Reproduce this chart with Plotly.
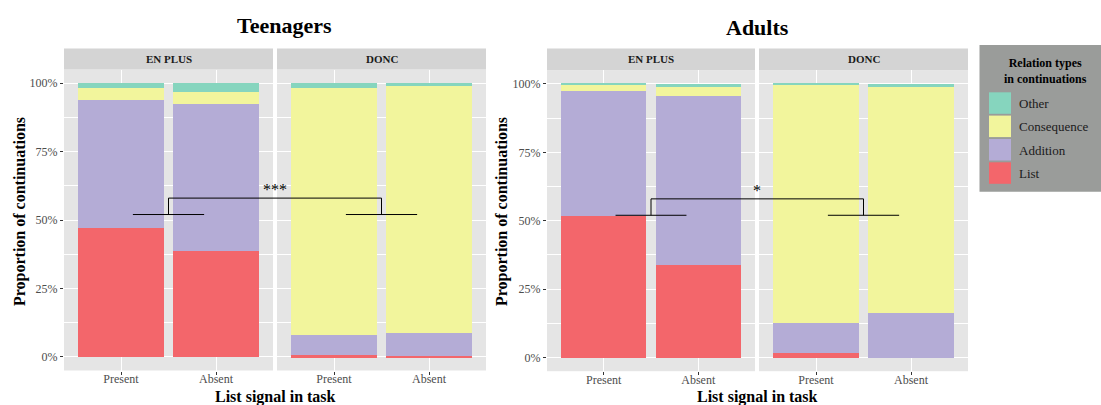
import plotly.graph_objects as go

W, H = 1101, 405

# ---- data -------------------------------------------------------------
signals = ["Present", "Absent"]
connectives = ["EN PLUS", "DONC"]
age_groups = ["Teenagers", "Adults"]
relation_types = ["List", "Addition", "Consequence", "Other"]
relation_colors = ["#F3666B", "#B4ACD6", "#F2F59C", "#86D5BE"]
legend_order = ["Other", "Consequence", "Addition", "List"]

# percentage of continuations per relation type, for [Present, Absent]
teen_en_plus_list = [47.1, 38.7]
teen_en_plus_addition = [46.9, 53.6]
teen_en_plus_consequence = [4.4, 4.3]
teen_en_plus_other = [1.6, 3.4]

teen_donc_list = [0.6, 0.4]
teen_donc_addition = [7.3, 8.2]
teen_donc_consequence = [90.5, 90.2]
teen_donc_other = [1.6, 1.2]

adult_en_plus_list = [51.8, 33.9]
adult_en_plus_addition = [45.6, 61.8]
adult_en_plus_consequence = [2.3, 3.3]
adult_en_plus_other = [0.3, 1.0]

adult_donc_list = [1.6, 0.0]
adult_donc_addition = [11.0, 16.3]
adult_donc_consequence = [87.2, 82.6]
adult_donc_other = [0.2, 1.1]

y_tick_values = [0, 25, 50, 75, 100]
y_tick_labels = ["0%", "25%", "50%", "75%", "100%"]
y_minor_values = [12.5, 37.5, 62.5, 87.5]

significance_labels = ["***", "*"]
bracket_low, bracket_high = 52, 58

panel_data = {
    ("Teenagers", "EN PLUS"): [teen_en_plus_list, teen_en_plus_addition,
                               teen_en_plus_consequence, teen_en_plus_other],
    ("Teenagers", "DONC"): [teen_donc_list, teen_donc_addition,
                            teen_donc_consequence, teen_donc_other],
    ("Adults", "EN PLUS"): [adult_en_plus_list, adult_en_plus_addition,
                            adult_en_plus_consequence, adult_en_plus_other],
    ("Adults", "DONC"): [adult_donc_list, adult_donc_addition,
                         adult_donc_consequence, adult_donc_other],
}

# ---- layout geometry (pixels) ----------------------------------------
FONT = "Liberation Serif"
panel_x_px = {
    ("Teenagers", "EN PLUS"): (64, 273),
    ("Teenagers", "DONC"): (277, 486),
    ("Adults", "EN PLUS"): (547, 755),
    ("Adults", "DONC"): (759, 968),
}
panel_y_px = {"Teenagers": (69.5, 370.5), "Adults": (70.3, 371.2)}
strip_top_px = 48.5
X_RANGE = [-0.6, 1.6]
Y_RANGE = [-5, 105]


def px(x):
    return x / W


def py(y):
    return 1 - y / H


fig = go.Figure()
layout_axes = {}
i = 0
for group in age_groups:
    for conn in connectives:
        i += 1
        key = (group, conn)
        xs = "" if i == 1 else str(i)
        x0, x1 = panel_x_px[key]
        top, bottom = panel_y_px[group]
        left_panel = conn == connectives[0]

        for rel, color, vals in zip(relation_types, relation_colors, panel_data[key]):
            fig.add_trace(go.Bar(
                x=signals, y=vals, name=rel, marker_color=color,
                marker_line_width=0, width=0.9, showlegend=False,
                xaxis="x" + xs, yaxis="y" + xs,
                hovertemplate=f"{group} · {conn}<br>%{{x}}: {rel} %{{y:.1f}}%<extra></extra>",
            ))

        layout_axes["xaxis" + xs] = dict(
            domain=[px(x0), px(x1)], anchor="y" + xs, range=X_RANGE,
            type="category", categoryorder="array", categoryarray=signals,
            showgrid=True, gridcolor="white", gridwidth=1.1,
            ticks="outside", ticklen=3, tickcolor="#333333", tickwidth=1,
            ticklabelstandoff=-6,
            tickfont=dict(family=FONT, size=12, color="#4D4D4D"),
            showline=False, zeroline=False, fixedrange=True,
        )
        layout_axes["yaxis" + xs] = dict(
            domain=[py(bottom), py(top)], anchor="x" + xs, range=Y_RANGE,
            tickmode="array", tickvals=y_tick_values, ticktext=y_tick_labels,
            showticklabels=left_panel,
            ticks="outside" if left_panel else "", ticklen=3,
            tickcolor="#333333", tickwidth=1,
            tickfont=dict(family=FONT, size=12, color="#4D4D4D"),
            showgrid=True, gridcolor="white", gridwidth=1.1,
            minor=dict(tickmode="array", tickvals=y_minor_values, showgrid=True,
                       gridcolor="white", gridwidth=0.5, ticks=""),
            showline=False, zeroline=False, fixedrange=True,
        )

shapes = []
annotations = []

# facet strips
for (group, conn), (x0, x1) in panel_x_px.items():
    top = panel_y_px[group][0]
    shapes.append(dict(type="rect", xref="paper", yref="paper",
                       x0=px(x0), x1=px(x1), y0=py(top), y1=py(strip_top_px),
                       fillcolor="#D4D4D4", line=dict(width=0), layer="below"))
    annotations.append(dict(xref="paper", yref="paper", x=px((x0 + x1) / 2),
                            y=py((top + strip_top_px) / 2), text=f"<b>{conn}</b>",
                            showarrow=False, xanchor="center", yanchor="middle",
                            font=dict(family=FONT, size=11, color="#1A1A1A")))


def data_to_paper(key, xv, yv):
    """Convert a data position inside a facet to paper coordinates."""
    x0, x1 = panel_x_px[key]
    top, bottom = panel_y_px[key[0]]
    xpix = x0 + (xv - X_RANGE[0]) / (X_RANGE[1] - X_RANGE[0]) * (x1 - x0)
    ypix = bottom - (yv - Y_RANGE[0]) / (Y_RANGE[1] - Y_RANGE[0]) * (bottom - top)
    return px(xpix), py(ypix)


# significance brackets between the two connectives
line_style = dict(color="black", width=1)
for group, label in zip(age_groups, significance_labels):
    pts = []
    for conn in connectives:
        key = (group, conn)
        lx0, ly = data_to_paper(key, 0.125, bracket_low)
        lx1, _ = data_to_paper(key, 0.875, bracket_low)
        mx, hy = data_to_paper(key, 0.5, bracket_high)
        shapes.append(dict(type="line", xref="paper", yref="paper",
                           x0=lx0, x1=lx1, y0=ly, y1=ly, line=line_style))
        shapes.append(dict(type="line", xref="paper", yref="paper",
                           x0=mx, x1=mx, y0=ly, y1=hy, line=line_style))
        pts.append((mx, hy))
    shapes.append(dict(type="line", xref="paper", yref="paper",
                       x0=pts[0][0], x1=pts[1][0], y0=pts[0][1], y1=pts[1][1],
                       line=line_style))
    annotations.append(dict(xref="paper", yref="paper",
                            x=(pts[0][0] + pts[1][0]) / 2, y=pts[0][1],
                            text=label, showarrow=False, xanchor="center",
                            yanchor="bottom", yshift=-2,
                            font=dict(family=FONT, size=16, color="black")))

# group titles and axis titles
title_pos = {"Teenagers": (284, 25), "Adults": (757, 28)}
ytitle_x = {"Teenagers": 20, "Adults": 502}
xtitle_x = {"Teenagers": 275, "Adults": 757}
for group in age_groups:
    tx, ty = title_pos[group]
    annotations.append(dict(xref="paper", yref="paper", x=px(tx), y=py(ty),
                            text=f"<b>{group}</b>", showarrow=False,
                            xanchor="center", yanchor="middle",
                            font=dict(family=FONT, size=22, color="black")))
    annotations.append(dict(xref="paper", yref="paper", x=px(ytitle_x[group]),
                            y=py(212), text="<b>Proportion of continuations</b>",
                            textangle=-90, showarrow=False,
                            xanchor="center", yanchor="middle",
                            font=dict(family=FONT, size=16, color="black")))
    annotations.append(dict(xref="paper", yref="paper", x=px(xtitle_x[group]),
                            y=py(396.5), text="<b>List signal in task</b>",
                            showarrow=False, xanchor="center", yanchor="middle",
                            font=dict(family=FONT, size=16, color="black")))

# legend panel
shapes.append(dict(type="rect", xref="paper", yref="paper",
                   x0=px(979.5), x1=px(1101), y0=py(191.7), y1=py(45),
                   fillcolor="#9A9C9A", line=dict(width=0)))
annotations.append(dict(xref="paper", yref="paper", x=px(1045), y=py(71.5),
                        text="<b>Relation types<br>in continuations</b>",
                        showarrow=False, xanchor="center", yanchor="middle",
                        align="center",
                        font=dict(family=FONT, size=12, color="black")))
key_tops = [92.3, 115.6, 139, 162.3]
color_of = dict(zip(relation_types, relation_colors))
for rel, ktop in zip(legend_order, key_tops):
    shapes.append(dict(type="rect", xref="paper", yref="paper",
                       x0=px(989), x1=px(1011), y0=py(ktop + 21.5), y1=py(ktop),
                       fillcolor=color_of[rel], line=dict(width=0)))
    annotations.append(dict(xref="paper", yref="paper", x=px(1017), y=py(ktop + 11),
                            text=rel, showarrow=False, xanchor="left",
                            yanchor="middle",
                            font=dict(family=FONT, size=13, color="#1A1A1A")))

fig.update_layout(
    width=W, height=H, autosize=False,
    margin=dict(l=0, r=0, t=0, b=0),
    paper_bgcolor="white", plot_bgcolor="#E5E5E5",
    barmode="stack", bargap=0.1, showlegend=False,
    shapes=shapes, annotations=annotations,
    font=dict(family=FONT),
    **layout_axes,
)

fig.write_html("out.html")
